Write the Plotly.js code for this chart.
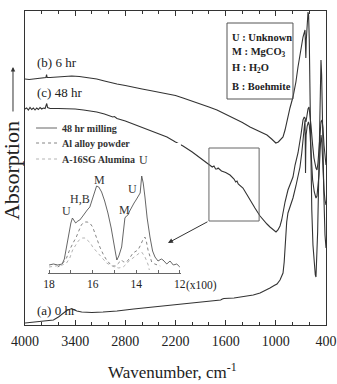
<!DOCTYPE html>
<html><head><meta charset="utf-8">
<script src="https://cdn.plot.ly/plotly-3.0.1.min.js"></script>
<style>html,body{margin:0;padding:0;background:#fff}#c{width:337px;height:384px}</style>
</head><body><div id="c"></div>
<script>
// ---- main spectra (wavenumber, cm-1 ; absorption, arbitrary units) ----
const wnB = [4000,3950,3900,3850,3800,3770,3750,3742,3735,3700,3600,3500,3441,3350,3250,3142,3050,2983,2900,2800,2700,2600,2505,2400,2302,2200,2110,2000,1900,1800,1704,1600,1500,1400,1309,1200,1106,1050,1000,970,950,914,890,860,831,795,760,735,700,675,651,645,641,636,625,615,608,600,590,580,570,556,540,528,520,512,500,490,480,470,460,452,444,436,424,412,400];
const absB = [246,245.5,246,246.5,247,247,247.5,250.5,247.5,247.5,248,248.5,249,248.5,247.5,246,244,243,241,239.5,237.5,236,234.5,233,231.5,229.5,227,224,221,218,215,211,207,202.5,198,194,190,186,182,183,185,188,195,207,217,228,243,258,275,288,295,280,267,285,303,313,310,285,225,165,115,80,60,50,48,63,93,135,195,240,265,250,205,160,125,90,77];

const wnC = [4000,3980,3960,3940,3920,3900,3880,3860,3840,3820,3800,3780,3760,3748,3740,3730,3700,3600,3500,3400,3300,3200,3142,3050,2983,2950,2930,2900,2800,2708,2600,2505,2400,2302,2200,2110,2000,1900,1811,1760,1740,1720,1704,1690,1650,1600,1548,1500,1480,1464,1450,1393,1350,1309,1250,1189,1150,1106,1070,1030,998,975,950,930,914,890,855,831,795,770,735,700,675,660,651,640,630,615,603,590,580,560,544,520,508,496,484,470,460,448,436,424,412,400];
const absC = [216,217,215,217.5,215.5,217,215,217,215.5,217.5,216,217,216.5,220.5,221.5,217.5,216.5,216.5,216.5,216,215,214,213,211,209,208,208.5,206.5,204,201,198,195,191,188,183,179,173,167,161,158,159,156,156,157,154,152.5,150,146,143,144,141,137,131,125,117,109,105,101,98,95,93,95,99,105,113,123,135,141,148,160,172,190,205,208,207,203,210,216,218,210,200,180,167,157,155,162,175,195,203,205,197,180,168,160];

const wnA = [4000,3900,3800,3700,3660,3600,3545,3500,3470,3441,3420,3380,3322,3200,3067,2900,2700,2469,2300,2100,1900,1700,1660,1640,1620,1500,1400,1270,1189,1120,1070,1020,986,950,914,900,890,870,855,831,795,760,735,711,690,675,660,651,647,645,642,638,625,610,600,590,580,560,540,520,508,496,484,470,460,450,436,424,412,400];
const absA = [2,3,4,4.5,5,8,12,14.5,15.5,16.5,15.5,14,13,12.5,13,14,16,18,19.5,21,23,24.5,25,26,26.5,27,28,30,32,34.5,37,39.5,41,45,52,63,80,103,112,118,127,139,148,158,172,187,200,205,175,152,175,190,199,203,200,190,170,145,133,127,129,137,150,175,190,183,155,135,125,120];

// ---- inset spectra (wavenumber x100 ; absorption, arbitrary units) ----
const wnMill = [18.0,17.8,17.6,17.4,17.3,17.2,17.1,17.0,16.93,16.85,16.78,16.68,16.59,16.45,16.36,16.25,16.13,16.0,15.9,15.82,15.72,15.59,15.45,15.3,15.15,15.07,14.95,14.89,14.8,14.67,14.58,14.52,14.45,14.38,14.3,14.21,14.1,14.01,13.92,13.82,13.75,13.68,13.6,13.5,13.37,13.25,13.14,13.0,12.85,12.77,12.6,12.45,12.3,12.14,12.0];
const absMill = [8,9,8,9,14,26,40,50,55,52,50,52,53,57,60,63,66,74,82,87,86,81,72,60,45,33,20,13,17,26,42,55,57,58,62,66,70,73,76,80,97,90,76,55,36,22,16,12,14,13,9,12,8,9,6];
const wnAlloy = [17.6,17.4,17.2,17.06,16.9,16.75,16.62,16.52,16.44,16.36,16.25,16.13,16.0,15.9,15.78,15.67,15.5,15.36,15.2,15.07,14.95,14.85,14.75,14.67,14.58,14.44,14.3,14.15,14.0,13.92,13.8,13.7,13.6,13.53,13.46,13.38,13.29,13.15,13.06,12.9];
const absAlloy = [6,9,15,23,30,36,43,48,50,51,51,50,46,40,33,26,18,13,9,7,7,9,12,13,11,11,15,20,22,23,28,33,36,31,23,16,11,9,8,7];
const wnAlum = [18.0,17.7,17.4,17.2,17.05,16.92,16.8,16.69,16.58,16.46,16.35,16.23,16.1,16.0,15.88,15.77,15.6,15.45,15.36,15.2,15.0,14.8,14.6,14.45,14.29,14.15,13.98,13.85,13.75,13.68,13.6,13.52,13.45,13.4];
const absAlum = [6,7,8,10,15,23,28,31,34,35,35,33,30,26,23,20,16,12,10,8,6,5,6,9,13,15,18,20,21,19,16,12,8,3];

const mainTicks = [4000,3400,2800,2200,1600,1000,400];
const insetTicks = [18,17,16,15,14,13,12];
const insetTickText = ['18','','16','','14','','12'];

const F = 'Liberation Serif, Times New Roman, serif';
const INK = '#333';

const traces = [
  {x: wnB, y: absB, mode:'lines', line:{color:INK, width:1.1}, xaxis:'x', yaxis:'y'},
  {x: wnC, y: absC, mode:'lines', line:{color:INK, width:1.1}, xaxis:'x', yaxis:'y'},
  {x: wnA, y: absA, mode:'lines', line:{color:INK, width:1.1}, xaxis:'x', yaxis:'y'},
  {x: wnMill, y: absMill, mode:'lines', line:{color:'#555', width:0.9}, xaxis:'x2', yaxis:'y2'},
  {x: wnAlloy, y: absAlloy, mode:'lines', line:{color:'#777', width:0.9, dash:'dot'}, xaxis:'x2', yaxis:'y2'},
  {x: wnAlum, y: absAlum, mode:'lines', line:{color:'#aaa', width:0.9, dash:'dot'}, xaxis:'x2', yaxis:'y2'}
];

function txt(x, y, t, o) {
  return Object.assign({x:x, y:y, text:t, showarrow:false, font:{family:F, size:13, color:'#222'}}, o||{});
}
const P = {xref:'paper', yref:'paper', xanchor:'center', yanchor:'middle'};

const annotations = [
  txt(-0.0465, 0.4904, 'Absorption', Object.assign({}, P, {textangle:-90, font:{family:F, size:22, color:'#222'}})),
  {xref:'paper', yref:'paper', x:-0.0399, y:0.8217, ax:0, ay:46, text:'', showarrow:true, arrowhead:2, arrowsize:0.9, arrowwidth:1, arrowcolor:INK},
  txt(0.49, -0.1465, 'Wavenumber, cm<sup>-1</sup>', Object.assign({}, P, {font:{family:F, size:17, color:'#222'}})),
  txt(3880, 263, '(b) 6 hr', {xref:'x', yref:'y', xanchor:'left'}),
  txt(3880, 233, '(c) 48 hr', {xref:'x', yref:'y', xanchor:'left'}),
  txt(3880, 15, '(a) 0 hr', {xref:'x', yref:'y', xanchor:'left'}),
  txt(1548, 288, '<b>U : Unknown</b>', {xref:'x', yref:'y', xanchor:'left', font:{family:F, size:10.5, color:'#222'}}),
  txt(1548, 273, '<b>M : MgCO<sub>3</sub></b>', {xref:'x', yref:'y', xanchor:'left', font:{family:F, size:10.5, color:'#222'}}),
  txt(1548, 257, '<b>H : H<sub>2</sub>O</b>', {xref:'x', yref:'y', xanchor:'left', font:{family:F, size:10.5, color:'#222'}}),
  txt(1548, 239, '<b>B : Boehmite</b>', {xref:'x', yref:'y', xanchor:'left', font:{family:F, size:10.5, color:'#222'}}),
  txt(3581, 197, '<b>48 hr milling</b>', {xref:'x', yref:'y', xanchor:'left', font:{family:F, size:10, color:'#333'}}),
  txt(3581, 182, '<b>Al alloy powder</b>', {xref:'x', yref:'y', xanchor:'left', font:{family:F, size:10, color:'#333'}}),
  txt(3581, 166, '<b>A-16SG Alumina</b>', {xref:'x', yref:'y', xanchor:'left', font:{family:F, size:10, color:'#333'}}),
  txt(17.19, 62, 'U', {xref:'x2', yref:'y2', font:{family:F, size:12, color:'#333'}}),
  txt(16.58, 74, 'H,B', {xref:'x2', yref:'y2', font:{family:F, size:12, color:'#333'}}),
  txt(15.67, 93, 'M', {xref:'x2', yref:'y2', font:{family:F, size:12, color:'#333'}}),
  txt(14.56, 63, 'M', {xref:'x2', yref:'y2', font:{family:F, size:12, color:'#333'}}),
  txt(14.17, 84, 'U', {xref:'x2', yref:'y2', font:{family:F, size:12, color:'#333'}}),
  txt(13.69, 113, 'U', {xref:'x2', yref:'y2', font:{family:F, size:12, color:'#333'}}),
  txt(0.585, 0.127, '(x100)', Object.assign({}, P, {font:{family:F, size:11.5, color:'#222'}})),
  {xref:'x', yref:'y', x:2290, y:82, axref:'x', ayref:'y', ax:1800, ay:104, text:'', showarrow:true, arrowhead:2, arrowsize:1, arrowwidth:1, arrowcolor:INK}
];

const shapes = [
  {type:'rect', xref:'x', yref:'y', x0:1584, x1:795, y0:226, y1:302, line:{color:'#555', width:1}},
  {type:'rect', xref:'x', yref:'y', x0:1800, x1:1200, y0:104, y1:177, line:{color:'#666', width:1}},
  {type:'line', xref:'x', yref:'y', x0:3868, x1:3617, y0:197, y1:197, line:{color:'#555', width:0.9}},
  {type:'line', xref:'x', yref:'y', x0:3868, x1:3617, y0:182, y1:182, line:{color:'#777', width:0.9, dash:'dot'}},
  {type:'line', xref:'x', yref:'y', x0:3868, x1:3617, y0:166, y1:166, line:{color:'#aaa', width:0.9, dash:'dot'}}
];

const layout = {
  width:337, height:384,
  margin:{l:25, r:11, t:11, b:59},
  paper_bgcolor:'#fff', plot_bgcolor:'#fff',
  showlegend:false,
  font:{family:F, color:'#222'},
  xaxis:{range:[4000,400], tickmode:'array', tickvals:mainTicks, ticks:'inside', ticklen:5, tickcolor:INK,
         minor:{tickmode:'linear', tick0:400, dtick:200, ticks:'inside', ticklen:3, tickcolor:INK},
         showline:true, linecolor:INK, linewidth:1, mirror:'allticks', showgrid:false, zeroline:false,
         ticklabelstandoff:3,
         tickfont:{family:F, size:14, color:'#222'}},
  yaxis:{range:[0,314], showline:true, linecolor:INK, linewidth:1, mirror:true, ticks:'', showticklabels:false, showgrid:false, zeroline:false},
  xaxis2:{anchor:'y2', domain:[0.0764,0.518], range:[18.05,11.95], tickmode:'array', tickvals:insetTicks, ticktext:insetTickText,
          ticks:'inside', ticklen:3, tickcolor:'#666', showline:true, linecolor:'#666', linewidth:1, showgrid:false, zeroline:false,
          tickfont:{family:F, size:11.5, color:'#222'}},
  yaxis2:{anchor:'x2', domain:[0.1656,0.5796], range:[0,130], visible:false},
  annotations:annotations,
  shapes:shapes
};

Plotly.newPlot('c', traces, layout, {staticPlot:true, displayModeBar:false});
</script>
</body></html>
